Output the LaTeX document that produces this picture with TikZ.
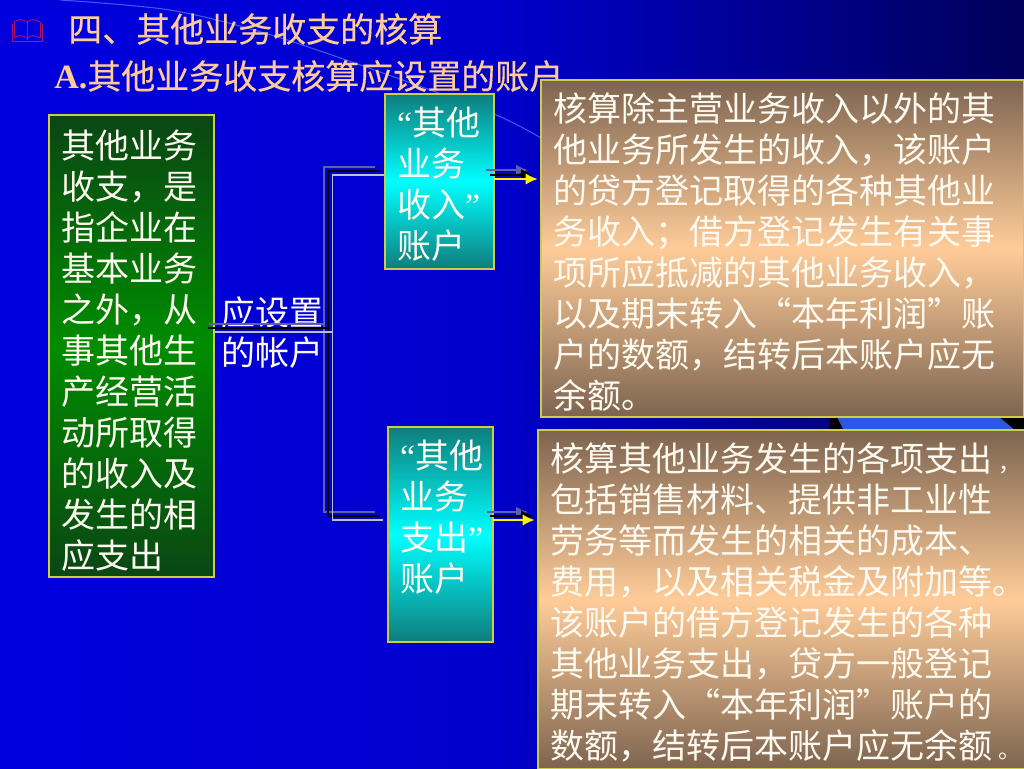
\documentclass[tikz,border=0pt]{standalone}
\usepackage{fontspec}
\setmainfont{Noto Sans CJK SC}
\newfontfamily\latinf{Liberation Serif}
\newfontfamily\titlef[FakeBold=0.3]{Noto Sans CJK SC}
\usetikzlibrary{calc,arrows.meta}
\definecolor{bgA}{RGB}{0,0,240}
\definecolor{bgB}{RGB}{0,0,205}
\definecolor{bgC}{RGB}{0,0,120}
\definecolor{bgD}{RGB}{0,0,60}
\definecolor{edgeY}{RGB}{205,205,70}
\definecolor{brownE}{RGB}{125,100,80}
\definecolor{peach}{RGB}{255,204,153}
\definecolor{tealE}{RGB}{15,125,125}
\definecolor{greenD}{RGB}{10,70,20}
\definecolor{greenM}{RGB}{0,140,0}
\definecolor{txtW}{RGB}{255,250,240}
\definecolor{lineG}{RGB}{95,95,170}
\definecolor{lineL}{RGB}{190,190,210}
\definecolor{arcB}{RGB}{60,90,240}
\definecolor{bookR}{RGB}{170,20,110}
\definecolor{stripB}{RGB}{40,90,230}
\pgfdeclarehorizontalshading{bgshade}{100bp}{color(0bp)=(bgA); color(49bp)=(bgB); color(68bp)=(bgC); color(81bp)=(bgD); color(98bp)=(black); color(100bp)=(black)}
\newcommand{\nudge}[1]{\par\vspace{#1}}
\newcommand{\smallp}[1]{{\fontsize{17pt}{17pt}\selectfont #1}}
\tikzset{
  basebox/.style={draw=edgeY,line width=1pt,inner xsep=9pt,inner ysep=0pt,align=left,text=txtW,
    font=\fontsize{25.5pt}{30.75pt}\selectfont,anchor=center},
  greenbox/.style={basebox,top color=greenD,bottom color=greenD,middle color=greenM},
  cyanbox/.style={basebox,top color=tealE,bottom color=tealE,middle color=cyan},
  peachbox/.style={basebox,top color=brownE,bottom color=brownE,middle color=peach},
  title/.style={text=peach,font=\titlef\fontsize{25.5pt}{30.75pt}\selectfont,anchor=west,inner sep=0pt},
  plain/.style={text=txtW,font=\fontsize{25.5pt}{30pt}\selectfont,align=left,inner sep=0pt},
  wireG/.style={draw=lineG,line width=2pt},
  wireK/.style={draw=black,line width=2pt},
  wireL/.style={draw=lineL,line width=1.2pt},
  tipG/.style={draw=lineG,line width=1.5pt,-{Latex[length=9pt,width=8pt]}},
  tipK/.style={draw=black,line width=1.5pt,-{Latex[length=9pt,width=9pt]}},
  tipY/.style={draw=yellow,line width=1.3pt,shorten >=2pt,-{Latex[length=9pt,width=8.5pt]}},
  bookline/.style={draw=bookR,line width=.7pt},
}
\begin{document}
\begin{tikzpicture}[x=0.75pt,y=-0.75pt]
\useasboundingbox (0,0) rectangle (1024,768);
\shade[shading=bgshade] (0,0) rectangle (1024,768);
\fill[black] (830,417) rectangle (1024,431);
\fill[stripB] (837,417) -- (999,417) -- (1016,431) -- (844,431) -- cycle;
\draw[arcB,line width=.8pt] plot[smooth] coordinates {(60,0) (170,10) (268,34) (383,73) (494,114) (541,138)};
% book bullet
\draw[bookline] (12,24) -- (12,41) -- (42,41) -- (42,24);
\draw[bookline] (14,38) .. controls (18,35) and (23,35) .. (27,38) .. controls (31,35) and (36,35) .. (40,38);
\draw[bookline] (14,22) .. controls (18,19) and (23,19) .. (27,22) .. controls (31,19) and (36,19) .. (40,22);
\draw[bookline] (14,22) -- (14,38) (27,22) -- (27,40) (40,22) -- (40,38);
% titles
\node[title] (t1) at (68,29) {四、其他业务收支的核算};
\node[title] (t2) at (54,76) {{\latinf\bfseries A.}其他业务收支核算应设置的账户};
% boxes
\node[greenbox,minimum width=123.75pt,minimum height=346.5pt,text width=105.75pt] (main) at (131.5,346)
 {其他业务\\收支，是\\指企业在\\基本业务\\之外，从\\事其他生\\产经营活\\动所取得\\的收入及\\发生的相\\应支出\nudge{-7.5pt}};
\node[cyanbox,minimum width=81.75pt,minimum height=131.25pt,text width=63.75pt] (inc) at (439.5,181.5)
 {{\latinf “}其他\\业务\\收入{\latinf ”}\\账户\nudge{-4pt}};
\node[cyanbox,minimum width=78.75pt,minimum height=161.25pt,text width=60.75pt] (exp) at (440.5,534.5)
 {{\latinf “}其他\\业务\\支出{\latinf ”}\\账户\nudge{25.5pt}};
\node[peachbox,minimum width=362.25pt,minimum height=252.75pt,text width=344pt] (incd) at (782.5,248.5)
 {核算除主营业务收入以外的其\\他业务所发生的收入，该账户\\的贷方登记取得的各种其他业\\务收入；借方登记发生有关事\\项所应抵减的其他业务收入，\\以及期末转入“本年利润”账\\户的数额，结转后本账户应无\\余额。\nudge{-6pt}};
\node[peachbox,minimum width=366pt,minimum height=254.25pt,text width=348pt] (expd) at (782,599.5)
 {\mbox{核算其他业务发生的各项支出\hspace{5pt}\smallp{，}}\\包括销售材料、提供非工业性\\劳务等而发生的相关的成本、\\费用，以及相关税金及附加等。\\该账户的借方登记发生的各种\\其他业务支出，贷方一般登记\\期末转入“本年利润”账户的\\\mbox{数额，结转后本账户应无余额\hspace{5pt}\smallp{。}}\nudge{-4.5pt}};
\node[plain] (lab) at (272,333) {应设置\\的帐户};
% connector anchors
\coordinate (sG) at (209,324); \coordinate (hG) at (324,324);
\coordinate (sK) at (208,328); \coordinate (hK) at (328,328);
\coordinate (sL) at (214,332); \coordinate (hL) at (332.5,332);
\coordinate (gT) at (375,167); \coordinate (gB) at (375,512);
\coordinate (kT) at (380,171); \coordinate (kB) at (380,516);
\coordinate (lT) at (385,175); \coordinate (lB) at (383,520);
\draw[wireG] (sG) -- (hG);
\draw[wireG] (gT) -| (hG) |- (gB);
\draw[wireK] (sK) -- (hK);
\draw[wireK] (kT) -| (hK) |- (kB);
\draw[wireL] (sL) -- (hL);
\draw[wireL] (inc.west |- lT) -| (hL) |- (lB);
% arrows
\coordinate (a1G) at (486,170); \coordinate (a1K) at (490,175); \coordinate (a1Y) at (494,179);
\coordinate (a2G) at (487,512); \coordinate (a2K) at (490,516); \coordinate (a2Y) at (493,520);
\coordinate (e1G) at (528,170); \coordinate (e1K) at (533,175);
\coordinate (e2G) at (528,512); \coordinate (e2K) at (533,516);
\draw[tipG] (a1G) -- (e1G);
\draw[tipK] (a1K) -- (e1K);
\draw[tipY] (a1Y) -- (incd.west |- a1Y);
\draw[tipG] (a2G) -- (e2G);
\draw[tipK] (a2K) -- (e2K);
\draw[tipY] (a2Y) -- (expd.west |- a2Y);
\end{tikzpicture}
\end{document}
